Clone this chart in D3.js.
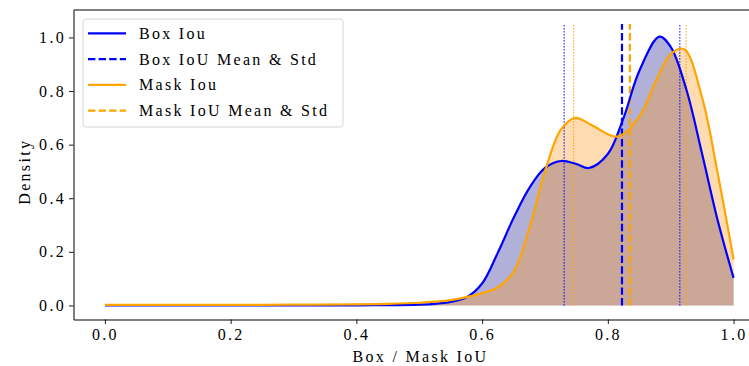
<!DOCTYPE html>
<html>
<head>
<meta charset="utf-8">
<script src="https://cdn.jsdelivr.net/npm/d3@7/dist/d3.min.js"></script>
<style>
  body { margin: 0; background: #fff; }
  text { font-family: 'Liberation Serif', 'Times New Roman', serif; font-size: 16px; letter-spacing: 2.3px; fill: #000; }
</style>
</head>
<body>
<div id="chart"></div>
<script>
// KDE of box IoU
const boxIou = [0, 0.1, 0.2, 0.3, 0.4, 0.45, 0.5, 0.525, 0.55, 0.575, 0.6, 0.625, 0.65, 0.675, 0.7, 0.725, 0.75, 0.77, 0.8, 0.825, 0.85, 0.882, 0.9, 0.925, 0.95, 0.975, 1.0];
const boxDensity = [0, 0, 0, 0, 0.0005, 0.001, 0.003, 0.006, 0.013, 0.03, 0.082, 0.197, 0.326, 0.438, 0.513, 0.539, 0.528, 0.513, 0.565, 0.70, 0.875, 1.003, 0.965, 0.805, 0.565, 0.315, 0.103];

// KDE of mask IoU
const maskIou = [0, 0.1, 0.2, 0.3, 0.4, 0.45, 0.5, 0.525, 0.55, 0.575, 0.6, 0.625, 0.65, 0.675, 0.7, 0.725, 0.748, 0.775, 0.815, 0.85, 0.875, 0.9, 0.921, 0.95, 0.975, 1.0];
const maskDensity = [0.002, 0.002, 0.002, 0.003, 0.004, 0.006, 0.01, 0.014, 0.02, 0.031, 0.046, 0.068, 0.125, 0.288, 0.50, 0.655, 0.70, 0.672, 0.63, 0.705, 0.83, 0.938, 0.957, 0.775, 0.49, 0.171];

// mean, std
const boxMeanStd = [0.8225, 0.092];
const maskMeanStd = [0.835, 0.0895];

const xTicks = [0, 0.2, 0.4, 0.6, 0.8, 1.0];
const yTicks = [0, 0.2, 0.4, 0.6, 0.8, 1.0];
const legendLabels = ['Box Iou', 'Box IoU Mean & Std', 'Mask Iou', 'Mask IoU Mean & Std'];

const width = 749, height = 366;
const margin = {top: 10, right: -16, bottom: 46.5, left: 73.5};
const innerW = width - margin.left - margin.right;
const innerH = height - margin.top - margin.bottom;

const svg = d3.select('#chart').append('svg')
  .attr('width', width)
  .attr('height', height);

const g = svg.append('g')
  .attr('transform', 'translate(' + margin.left + ',' + margin.top + ')');

const x = d3.scaleLinear().domain([-0.05, 1.05]).range([0, innerW]);
const y = d3.scaleLinear().domain([-0.0525, 1.1025]).range([innerH, 0]);

const blue = '#0000ff', orange = '#ffa500';

function series(xs, ys) {
  return xs.map((d, i) => [d, ys[i]]);
}
const boxPts = series(boxIou, boxDensity);
const maskPts = series(maskIou, maskDensity);

const area = d3.area()
  .x(d => x(d[0]))
  .y0(y(0))
  .y1(d => y(Math.max(0, d[1])))
  .curve(d3.curveCatmullRom.alpha(0.5));

const line = d3.line()
  .x(d => x(d[0]))
  .y(d => y(Math.max(0, d[1])))
  .curve(d3.curveCatmullRom.alpha(0.5));

// fills
g.append('path').datum(boxPts)
  .attr('d', area)
  .attr('fill', '#000080')
  .attr('fill-opacity', 0.31);
g.append('path').datum(maskPts)
  .attr('d', area)
  .attr('fill', '#fc981d')
  .attr('fill-opacity', 0.35);

// mean & std lines
function vlines(ms, color) {
  const [m, s] = ms;
  g.append('line')
    .attr('x1', x(m)).attr('x2', x(m))
    .attr('y1', y(0)).attr('y2', y(1.05))
    .attr('stroke', color)
    .attr('stroke-width', 2.2)
    .attr('stroke-dasharray', '7.4,3.2');
  [m - s, m + s].forEach(v => {
    g.append('line')
      .attr('x1', x(v)).attr('x2', x(v))
      .attr('y1', y(0)).attr('y2', y(1.05))
      .attr('stroke', color)
      .attr('stroke-width', 1.2)
      .attr('stroke-dasharray', '1.2,1.8');
  });
}
vlines(boxMeanStd, blue);
vlines(maskMeanStd, orange);

// curves
g.append('path').datum(boxPts)
  .attr('d', line)
  .attr('fill', 'none')
  .attr('stroke', blue)
  .attr('stroke-width', 2.2);
g.append('path').datum(maskPts)
  .attr('d', line)
  .attr('fill', 'none')
  .attr('stroke', orange)
  .attr('stroke-width', 2.2);

// axes
const xAxis = g.append('g')
  .attr('transform', 'translate(0,' + innerH + ')')
  .call(d3.axisBottom(x).tickValues(xTicks).tickFormat(d3.format('.1f')).tickSize(4.5).tickPadding(5).tickSizeOuter(0));
const yAxis = g.append('g')
  .call(d3.axisLeft(y).tickValues(yTicks).tickFormat(d3.format('.1f')).tickSize(4.5).tickPadding(3).tickSizeOuter(0));

[xAxis, yAxis].forEach(a => {
  a.select('.domain').attr('stroke', '#000').attr('stroke-width', 1);
  a.selectAll('.tick line').attr('stroke', '#000').attr('stroke-width', 0.9);
  a.selectAll('.tick text')
    .attr('fill', '#000')
    .style('font-family', "'Liberation Serif', serif")
    .style('font-size', '16px');
});

// top spine
g.append('line')
  .attr('x1', 0).attr('x2', innerW)
  .attr('y1', 0).attr('y2', 0)
  .attr('stroke', '#000').attr('stroke-width', 1);

// axis titles
svg.append('text')
  .attr('x', margin.left + x(0.5) + 1.2)
  .attr('y', 362)
  .attr('text-anchor', 'middle')
  .text('Box / Mask IoU');

svg.append('text')
  .attr('transform', 'translate(30,' + (margin.top + innerH / 2 + 7) + ') rotate(-90)')
  .attr('text-anchor', 'middle')
  .text('Density');

// legend
const legend = svg.append('g').attr('transform', 'translate(83,19)');
legend.append('rect')
  .attr('x', 0).attr('y', 0)
  .attr('width', 260).attr('height', 108)
  .attr('rx', 3)
  .attr('fill', '#fff')
  .attr('fill-opacity', 0.8)
  .attr('stroke', '#d6d6d6')
  .attr('stroke-width', 1);

const legendColors = [blue, blue, orange, orange];
const rowH = 25.8;
legendLabels.forEach((label, i) => {
  const cy = 14.3 + i * rowH;
  legend.append('line')
    .attr('x1', 5).attr('x2', 43)
    .attr('y1', cy).attr('y2', cy)
    .attr('stroke', legendColors[i])
    .attr('stroke-width', 2.2)
    .attr('stroke-dasharray', i % 2 ? '7.4,3.2' : null);
  legend.append('text')
    .attr('x', 56)
    .attr('y', cy + 5.5)
    .text(label);
});
</script>
</body>
</html>
